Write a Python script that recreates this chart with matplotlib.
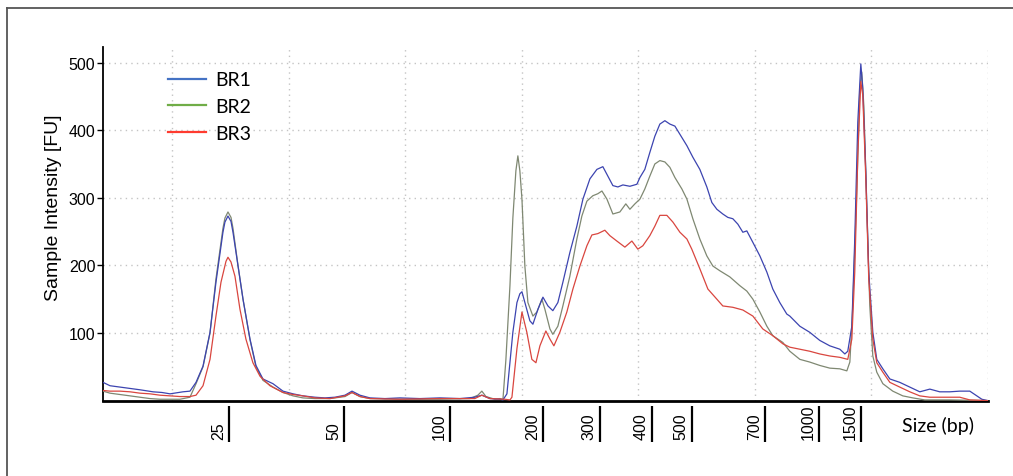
import matplotlib
matplotlib.use("Agg")
import matplotlib.pyplot as plt
from matplotlib.lines import Line2D
import matplotlib.transforms as mtransforms

# ---------------- data (migration time in s, intensity in FU) ----------------
br1_time = [44.08, 44.68, 45.54, 46.40, 47.25, 48.37, 49.14, 49.83, 50.94, 51.54,
            52.06, 52.66, 53.26, 53.77, 54.37, 54.54, 54.80, 55.06, 55.23, 55.66,
            56.09, 56.69, 57.20, 57.80, 58.66, 59.52, 60.38, 61.23, 62.26, 63.12,
            63.98, 64.84, 65.44, 66.12, 66.98, 68.27, 69.55, 71.27, 72.98, 74.70,
            75.98, 76.58, 77.27, 78.13, 78.39, 78.73, 79.24, 79.59, 79.84, 80.02,
            80.27, 80.70, 80.96, 81.39, 81.82, 82.25, 82.67, 83.10, 83.53, 84.13,
            84.73, 85.25, 85.85, 86.45, 86.96, 87.39, 87.82, 88.25, 88.68, 89.28,
            89.88, 90.14, 90.56, 90.99, 91.42, 91.85, 92.28, 92.71, 93.14, 93.57,
            94.17, 94.68, 95.28, 95.88, 96.31, 96.74, 97.25, 97.68, 98.11, 98.54,
            98.97, 99.31, 99.83, 100.43, 101.03, 101.54, 102.14, 102.74, 103.00, 103.86,
            104.71, 105.57, 106.43, 107.29, 107.72, 107.97, 108.32, 108.57, 108.83, 109.09,
            109.26, 109.52, 109.77, 110.12, 110.46, 110.98, 111.58, 112.43, 113.29, 114.15,
            115.01, 115.86, 116.72, 117.58, 118.44, 119.04, 119.47, 119.98]
br1_fu = [27, 22, 20, 18, 16, 13, 12, 10, 13, 14,
          27, 51, 101, 175, 249, 264, 273, 265, 249, 199,
          150, 91, 52, 32, 25, 14, 10, 7, 5, 4,
          5, 8, 14, 8, 4, 3, 4, 3, 4, 3,
          5, 8, 3, 2, 1, 10, 101, 145, 158, 161,
          145, 118, 113, 135, 153, 140, 133, 145, 175, 219,
          258, 298, 328, 342, 346, 332, 318, 316, 319, 317,
          320, 330, 342, 367, 391, 409, 414, 409, 406, 394,
          377, 360, 342, 316, 293, 283, 276, 271, 269, 261,
          249, 251, 234, 214, 190, 165, 145, 128, 125, 110,
          101, 89, 81, 76, 69, 73, 110, 239, 412, 498,
          461, 338, 190, 101, 61, 47, 32, 27, 20, 13,
          17, 13, 13, 14, 14, 7, 2, 0]

br2_time = [44.08, 44.68, 45.54, 46.40, 47.25, 48.11, 48.97, 49.83, 50.68, 51.54,
            52.06, 52.66, 53.26, 53.77, 54.37, 54.54, 54.80, 55.06, 55.23, 55.66,
            56.09, 56.69, 57.20, 57.80, 58.66, 59.52, 60.38, 61.23, 62.26, 63.55,
            64.84, 65.44, 66.12, 66.98, 69.55, 72.98, 75.56, 76.24, 76.58, 76.93,
            77.70, 78.13, 78.39, 78.64, 78.99, 79.24, 79.50, 79.67, 79.84, 80.02,
            80.27, 80.53, 80.96, 81.30, 81.73, 81.99, 82.42, 82.67, 83.10, 83.53,
            84.13, 84.73, 85.16, 85.59, 86.10, 86.53, 86.88, 87.31, 87.82, 88.42,
            88.93, 89.28, 89.71, 90.14, 90.56, 90.99, 91.42, 91.85, 92.28, 92.71,
            93.14, 93.74, 94.17, 94.68, 95.28, 95.88, 96.40, 97.00, 97.85, 98.71,
            99.31, 99.83, 100.43, 101.03, 101.54, 102.40, 103.00, 103.86, 104.71, 105.57,
            106.43, 107.29, 107.89, 108.15, 108.40, 108.75, 109.00, 109.17, 109.35, 109.60,
            109.86, 110.12, 110.46, 110.98, 111.83, 112.69, 113.55, 114.58, 116.72, 119.98]
br2_fu = [14, 11, 9, 7, 5, 3, 2, 2, 2, 5,
          25, 50, 100, 180, 255, 270, 279, 271, 255, 200,
          150, 90, 50, 30, 20, 12, 7, 4, 3, 3,
          6, 12, 6, 3, 2, 2, 3, 8, 14, 6,
          2, 3, 2, 60, 170, 270, 340, 362, 340, 298,
          199, 145, 125, 131, 150, 135, 106, 98, 110, 140,
          184, 239, 273, 295, 303, 306, 310, 298, 276, 279,
          291, 283, 291, 298, 313, 332, 350, 355, 353, 345,
          330, 313, 298, 269, 239, 214, 199, 192, 183, 170,
          162, 150, 131, 110, 96, 86, 73, 61, 57, 52,
          48, 47, 44, 57, 140, 313, 461, 486, 436, 288,
          140, 66, 42, 25, 14, 7, 4, 1, 1, 0]

br3_time = [44.08, 44.68, 45.54, 46.40, 47.25, 48.11, 48.97, 49.83, 50.68, 51.54,
            52.06, 52.66, 53.26, 53.77, 54.20, 54.63, 54.80, 55.06, 55.40, 55.83,
            56.34, 56.94, 57.55, 58.40, 59.52, 60.38, 61.23, 62.26, 63.55, 64.84,
            65.44, 66.12, 66.98, 69.55, 72.98, 75.98, 76.58, 77.27, 78.56, 78.99,
            79.16, 79.59, 80.02, 80.44, 80.87, 81.22, 81.56, 82.07, 82.42, 82.76,
            83.27, 83.87, 84.39, 84.99, 85.59, 86.02, 86.53, 87.13, 87.56, 88.16,
            88.85, 89.45, 89.96, 90.39, 90.99, 91.42, 91.85, 92.45, 92.97, 93.57,
            94.17, 94.59, 95.28, 95.97, 96.74, 97.25, 98.11, 98.97, 99.83, 100.68,
            101.54, 102.40, 103.00, 103.86, 104.71, 105.57, 106.43, 107.29, 107.97, 108.32,
            108.57, 108.83, 109.09, 109.26, 109.52, 109.77, 110.12, 110.46, 110.98, 111.58,
            112.43, 113.29, 114.15, 115.01, 116.46, 117.58, 118.44, 119.98]
br3_fu = [15, 14, 14, 13, 11, 10, 8, 7, 6, 6,
          8, 22, 61, 125, 175, 206, 212, 205, 184, 135,
          91, 56, 36, 22, 12, 9, 7, 4, 3, 7,
          12, 6, 3, 2, 3, 3, 8, 3, 2, 1,
          5, 77, 131, 101, 61, 56, 81, 103, 91, 81,
          101, 131, 165, 199, 229, 245, 247, 252, 244, 236,
          227, 236, 224, 229, 244, 258, 274, 274, 264, 249,
          239, 224, 195, 165, 150, 140, 138, 134, 125, 106,
          96, 84, 79, 76, 73, 69, 66, 64, 61, 91,
          190, 362, 472, 451, 327, 180, 91, 56, 42, 27,
          20, 13, 7, 5, 5, 5, 1, 0]

series_labels = ["BR1", "BR2", "BR3"]
line_colors = ["#3c44b0", "#7f8872", "#d9463f"]
legend_colors = ["#4472c4", "#70ad47", "#ff3b2f"]

size_labels = ["25", "50", "100", "200", "300", "400", "500", "700", "1000", "1500"]
size_pos = [54.89, 64.75, 73.84, 81.82, 86.70, 91.16, 94.59, 100.86, 105.49, 109.09]

grid_x = [50, 60, 70, 80, 90, 100, 110, 120]
y_ticks = [100, 200, 300, 400, 500]

# ---------------- figure ----------------
plt.rcParams['font.family'] = ['Liberation Sans', 'DejaVu Sans']
fig = plt.figure(figsize=(10.13, 4.77), dpi=100)
ax = fig.add_axes([0.10168, 0.15807, 0.87364, 0.74130])

ax.plot(br2_time, br2_fu, color=line_colors[1], lw=0.9, zorder=3)
ax.plot(br1_time, br1_fu, color=line_colors[0], lw=0.9, zorder=4)
ax.plot(br3_time, br3_fu, color=line_colors[2], lw=0.9, zorder=5)

ax.set_xlim(44.08, 120.0)
ax.set_ylim(0, 523)

ax.set_xticks(grid_x)
ax.set_xticklabels([])
ax.tick_params(axis='x', length=0)
ax.set_yticks(y_ticks)
ax.tick_params(axis='y', direction='out', length=4, width=1, pad=1.5, labelsize=11.5)

ax.grid(True, color='#c4c4c4', linestyle=(0, (1, 3)), linewidth=1)
ax.set_axisbelow(True)

for s in ['top', 'right']:
    ax.spines[s].set_visible(False)
ax.spines['left'].set_linewidth(1.3)
ax.spines['bottom'].set_linewidth(2.0)

ax.set_ylabel("Sample Intensity [FU]", fontsize=14)
ax.yaxis.set_label_coords(-0.046, 0.5475)

# size ticks below axis
xa = ax.get_xaxis_transform()
ax.vlines(size_pos, -0.015, -0.1176, transform=xa, clip_on=False, color='black', lw=1.6)
off = mtransforms.ScaledTranslation(-3 / 100, 3 / 100, fig.dpi_scale_trans)
for p, lab in zip(size_pos, size_labels):
    ax.text(p, -0.1176, lab, transform=xa + off, rotation=90, ha='right', va='bottom',
            fontsize=11.5)

ax.text(0.903, -0.069, "Size (bp)", transform=ax.transAxes, ha='left', va='center',
        fontsize=14, family='Lato')

handles = [Line2D([], [], color=c, lw=1.6) for c in legend_colors]
ax.legend(handles, series_labels, loc='upper left', bbox_to_anchor=(0.0734, 0.931),
          frameon=False, borderpad=0, borderaxespad=0, handlelength=1.95,
          handletextpad=0.5, labelspacing=0.5, prop={'family': 'Lato', 'size': 14})

# figure frame (top and left)
fig.add_artist(Line2D([0.0069, 0.0069], [0.0, 0.981], transform=fig.transFigure,
                      color='#555555', lw=1.3))
fig.add_artist(Line2D([0.0069, 1.0], [0.981, 0.981], transform=fig.transFigure,
                      color='#555555', lw=1.3))

fig.savefig("out.png", dpi=100)
